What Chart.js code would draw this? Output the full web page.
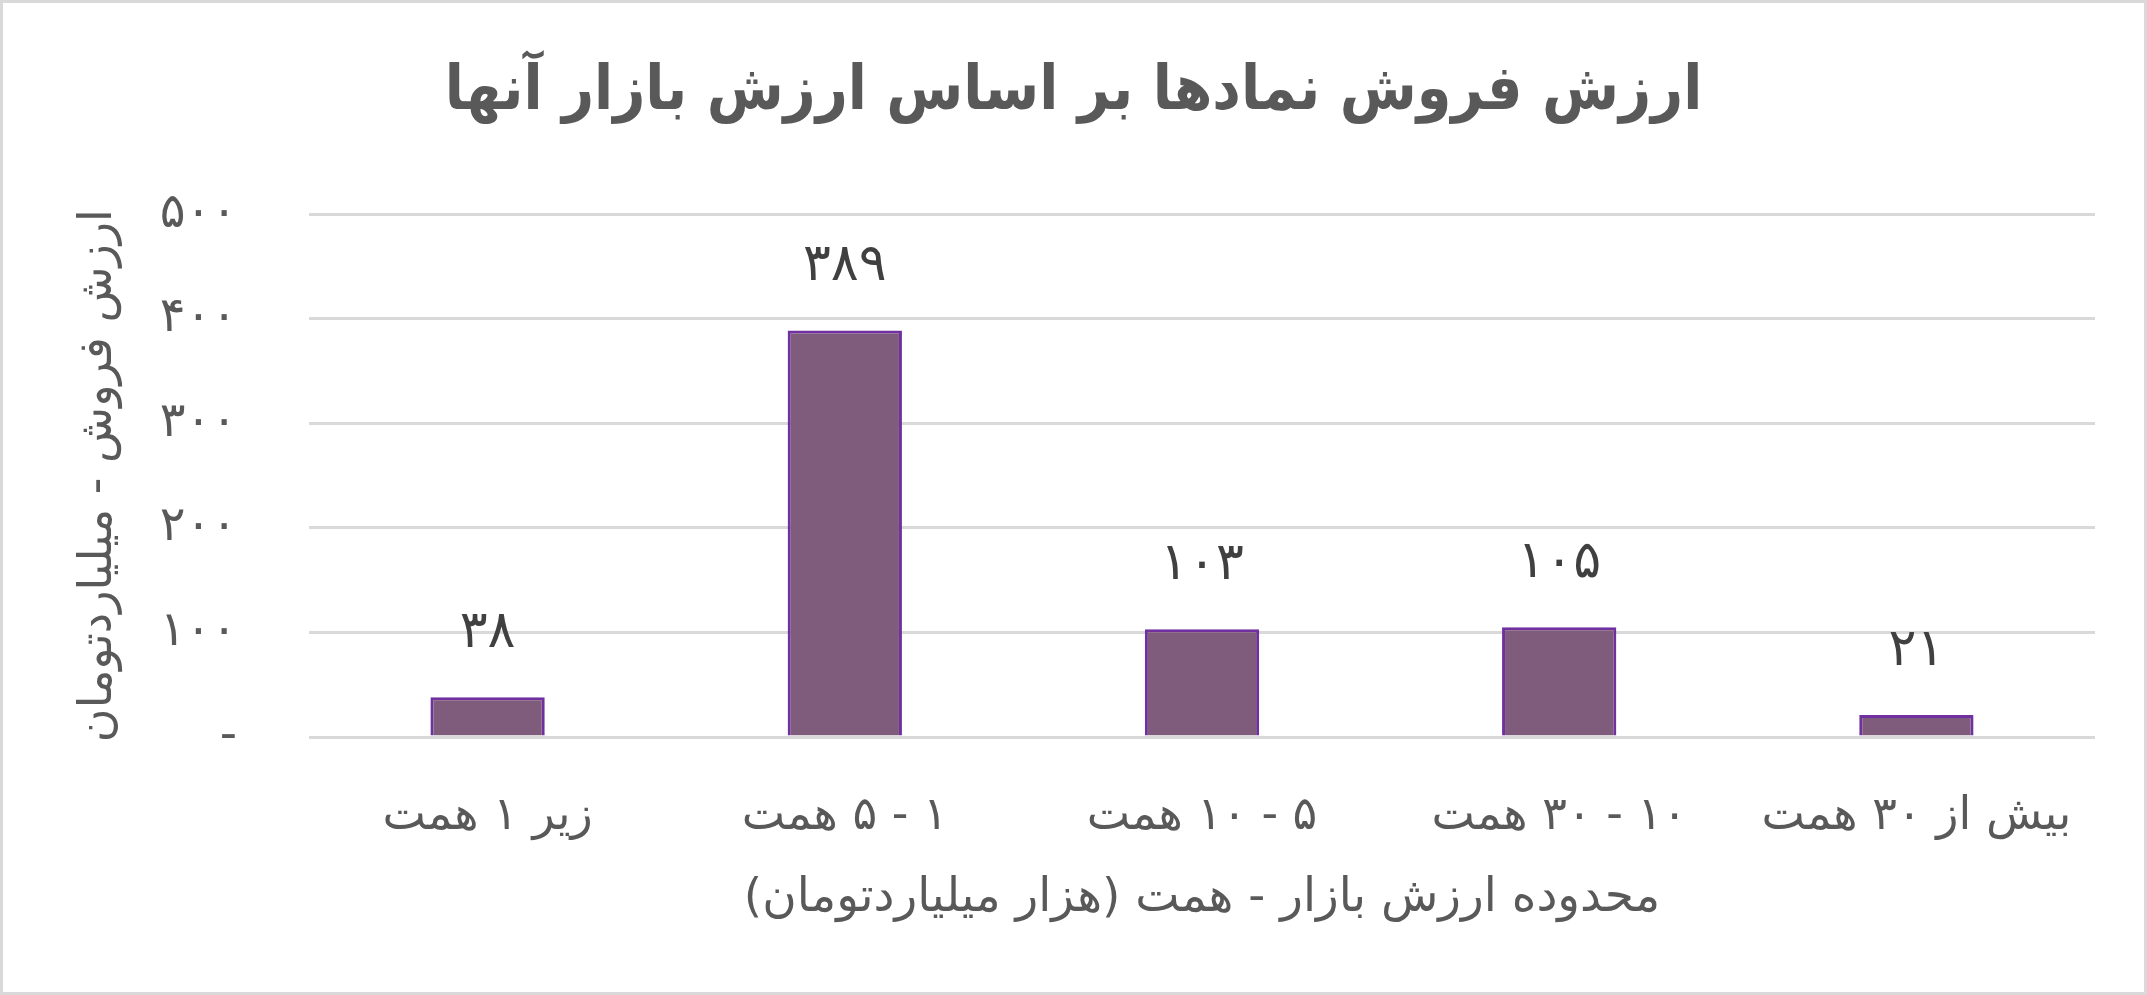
<!DOCTYPE html>
<html lang="fa">
<head>
<meta charset="utf-8">
<title>ارزش فروش نمادها</title>
<script src="https://cdn.jsdelivr.net/npm/chart.js@4/dist/chart.umd.min.js"></script>
<style>
  html, body { margin: 0; padding: 0; background: #fff; }
  #wrap { width: 2147px; height: 995px; }
  #chart { direction: rtl; }
</style>
</head>
<body>
<div id="wrap"><canvas id="chart" width="2147" height="995"></canvas></div>
<script>
const categories = ['زیر ۱ همت', '۱ - ۵ همت', '۵ - ۱۰ همت', '۱۰ - ۳۰ همت', 'بیش از ۳۰ همت'];
const salesValue = [38, 389, 103, 105, 21];
const yTicks = [0, 100, 200, 300, 400, 500];

const FONT = '"DejaVu Sans", "Noto Sans", sans-serif';
const FONT_TITLE = '"DejaVu Sans Condensed", "DejaVu Sans", sans-serif';

// latin digits -> persian digits
const fa = (n) => String(n).replace(/\d/g, (d) => '۰۱۲۳۴۵۶۷۸۹'[d]);

const frame = {
    id: 'frame',
    beforeDraw(chart) {
        const c = chart.ctx;
        c.save();
        c.fillStyle = '#fff';
        c.fillRect(0, 0, chart.width, chart.height);
        c.strokeStyle = '#d9d9d9';
        c.lineWidth = 3;
        c.strokeRect(1.5, 1.5, chart.width - 3, chart.height - 3);
        c.restore();
    },
};

const valueLabels = {
    id: 'valueLabels',
    afterDatasetsDraw(chart) {
        const c = chart.ctx;
        const meta = chart.getDatasetMeta(0);
        c.save();
        c.font = '52px ' + FONT;
        c.fillStyle = '#404040';
        c.textAlign = 'center';
        c.textBaseline = 'middle';
        meta.data.forEach((bar, i) => {
            c.fillText(fa(salesValue[i]), bar.x, bar.y - 64);
        });
        c.restore();
    },
};

new Chart(document.getElementById('chart'), {
    type: 'bar',
    data: {
        labels: categories,
        datasets: [{
            data: salesValue,
            backgroundColor: '#7f5c7b',
            borderColor: '#7030a0',
            borderWidth: 3,
            barPercentage: 0.32,
            categoryPercentage: 1,
        }],
    },
    options: {
        responsive: false,
        animation: false,
        layout: { padding: { left: 52, right: 52, top: 20, bottom: 10 } },
        plugins: {
            legend: { display: false },
            tooltip: { enabled: false },
            title: {
                display: true,
                text: 'ارزش فروش نمادها بر اساس ارزش بازار آنها',
                color: '#595959',
                font: { family: FONT_TITLE, size: 62, weight: 'bold' },
                padding: { top: 36, bottom: 84 },
            },
        },
        scales: {
            x: {
                grid: { display: false },
                border: { display: false },
                ticks: {
                    color: '#595959',
                    font: { family: FONT, size: 46 },
                    padding: 44,
                    maxRotation: 0,
                },
                title: {
                    display: true,
                    text: 'محدوده ارزش بازار - همت (هزار میلیاردتومان)',
                    color: '#595959',
                    font: { family: FONT, size: 47 },
                    padding: { top: 20, bottom: 58 },
                },
                afterFit(s) { s.height = 995 - 737 - 10; },
            },
            y: {
                min: 0,
                max: 500,
                afterBuildTicks(s) { s.ticks = yTicks.map((v) => ({ value: v })); },
                grid: { color: '#d9d9d9', lineWidth: 3, drawTicks: false },
                border: { display: false },
                ticks: {
                    color: '#595959',
                    font: { family: FONT, size: 48 },
                    padding: 72,
                    callback: (v) => (v === 0 ? '-' : fa(v)),
                },
                title: {
                    display: true,
                    text: 'ارزش فروش - میلیاردتومان',
                    color: '#595959',
                    font: { family: FONT, size: 46 },
                    padding: { top: 19, bottom: 0 },
                },
                afterFit(s) { s.width = 309 - 52; },
            },
        },
    },
    plugins: [frame, valueLabels],
});
</script>
</body>
</html>
